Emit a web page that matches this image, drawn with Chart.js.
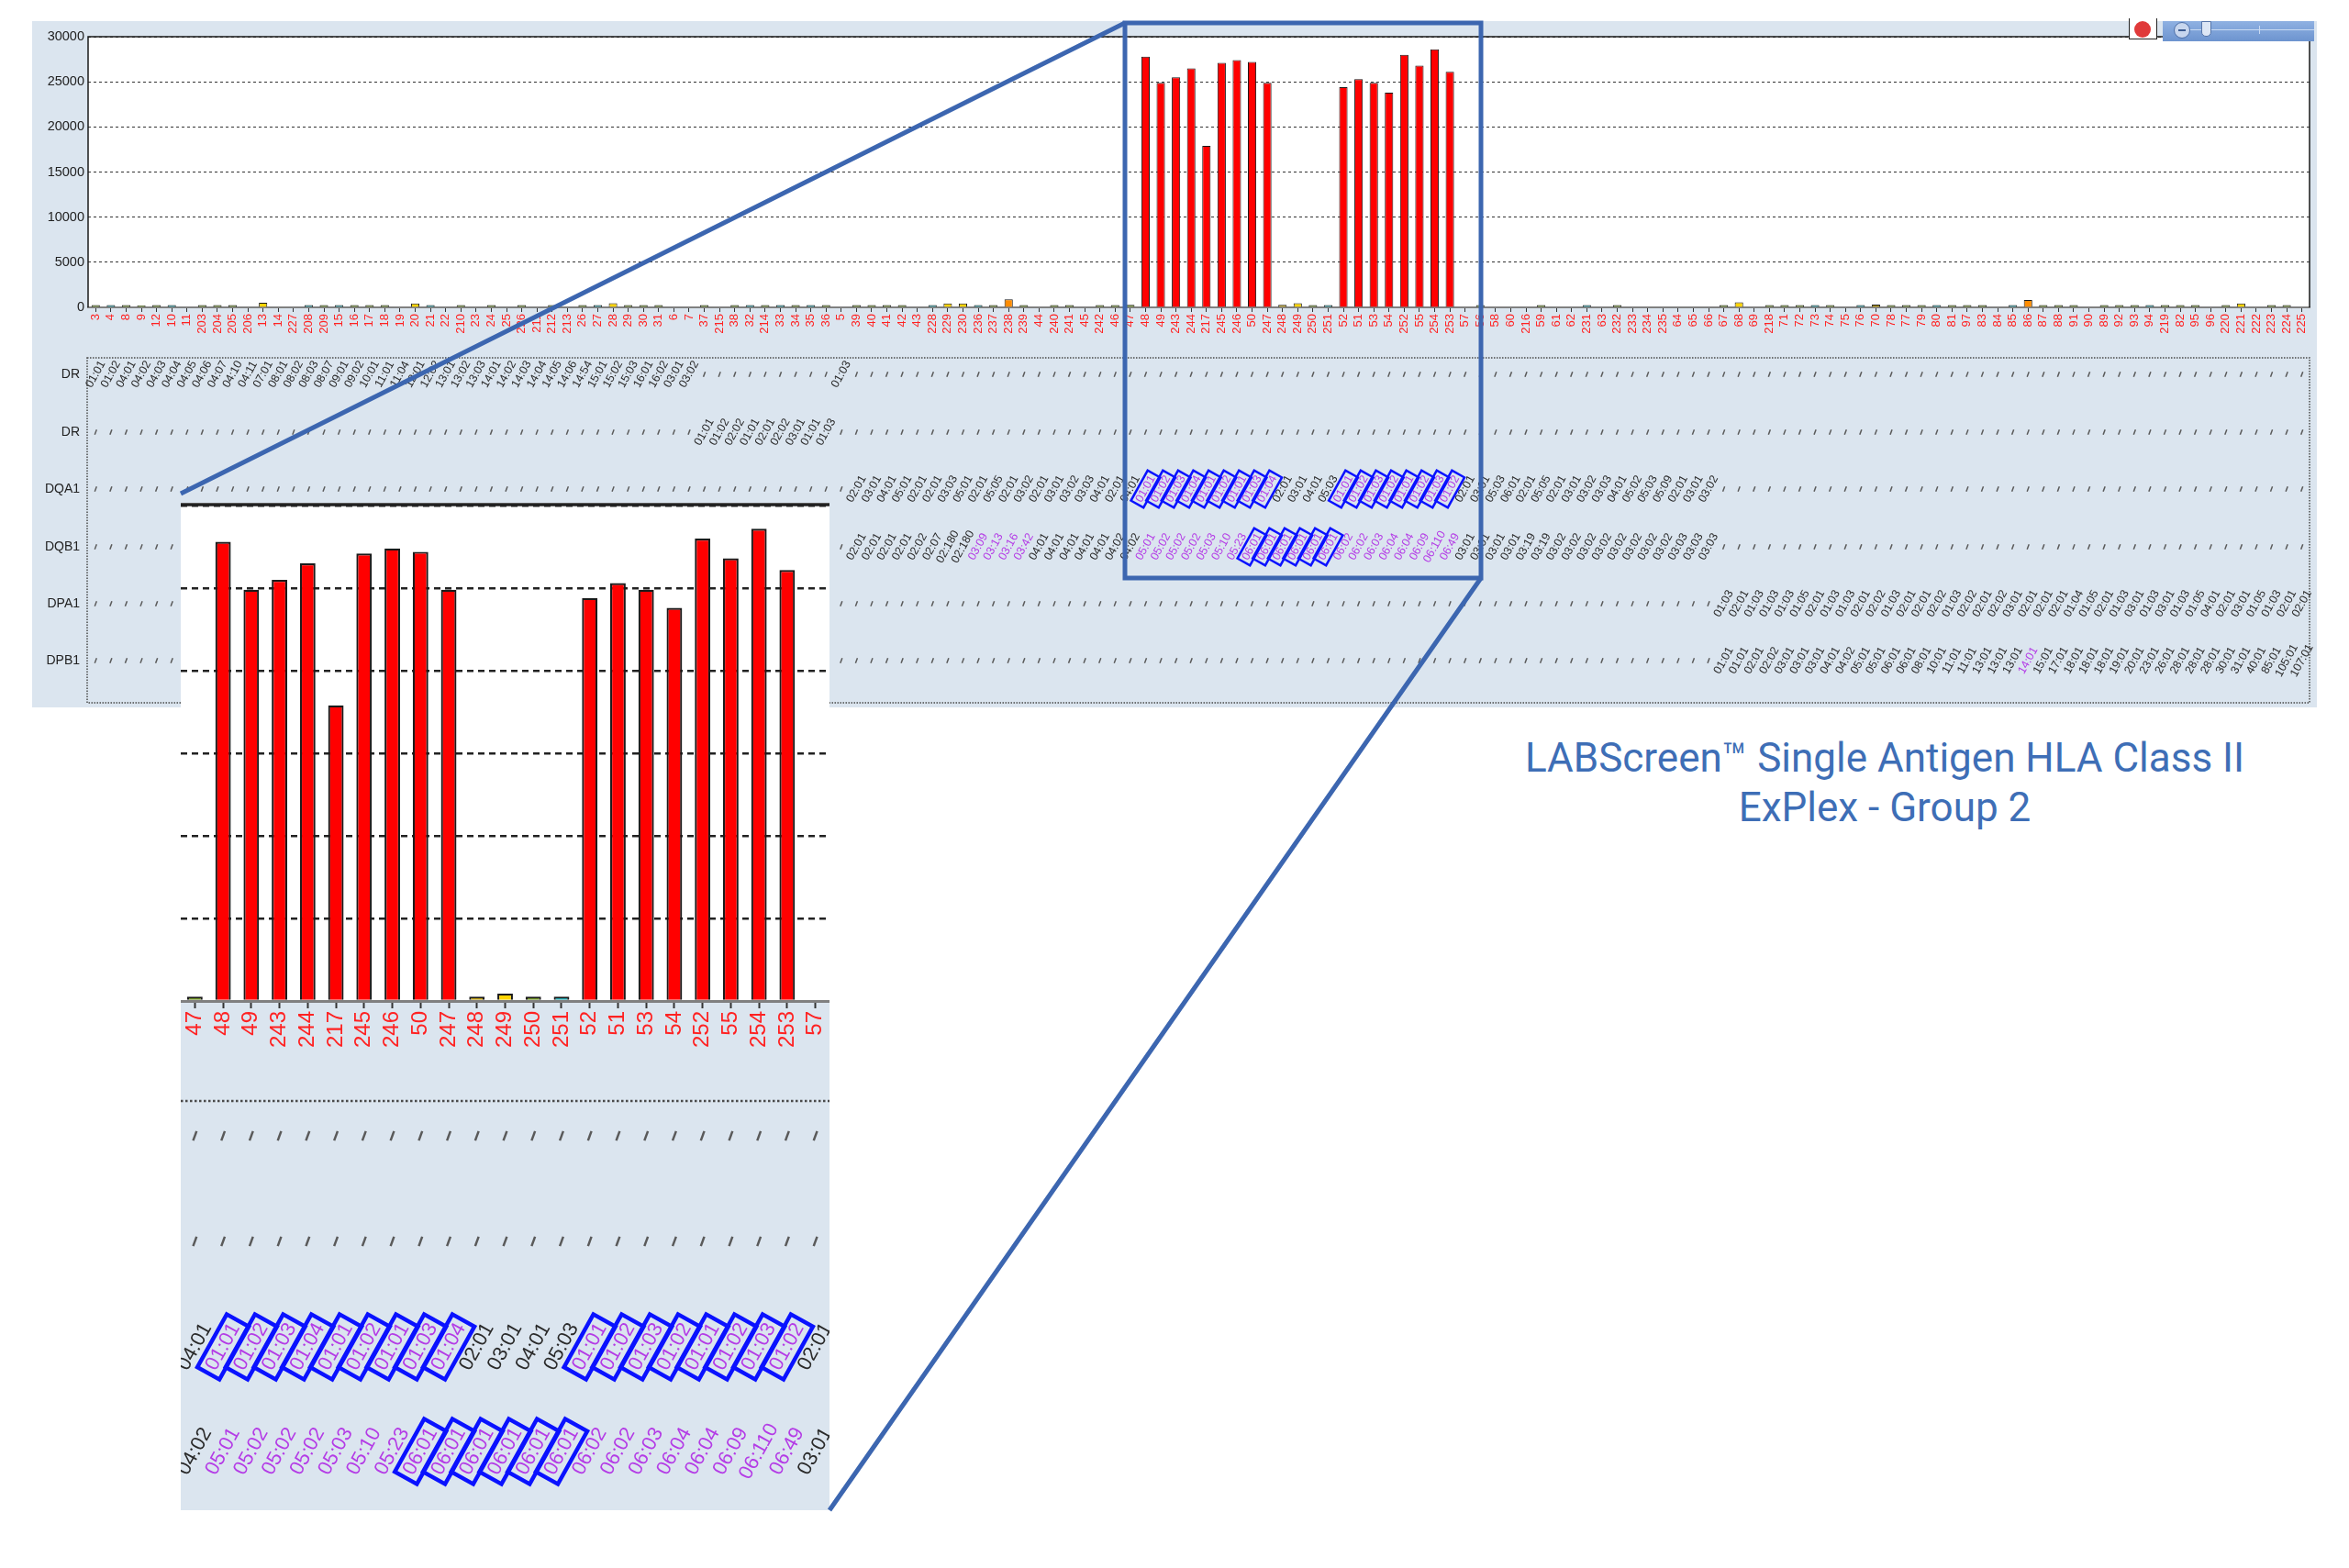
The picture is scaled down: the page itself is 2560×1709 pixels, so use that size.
<!DOCTYPE html>
<html lang="pt-BR">
<head>
<meta charset="utf-8">
<title>LABScreen Single Antigen HLA Class II - ExPlex Group 2</title>
<script src="https://cdn.jsdelivr.net/npm/chart.js@4.4.1/dist/chart.umd.min.js"></script>
<style>
  html, body { margin: 0; padding: 0; background: #fff; }
  body { width: 2560px; height: 1709px; position: relative; overflow: hidden; font-family: Arial, "Liberation Sans", sans-serif; }
  #painel { position: absolute; left: 35px; top: 23px; width: 2490px; height: 748px; background: #dbe5ef; }
  #graficoPrincipal { position: absolute; left: 35px; top: 23px; }
  #graficoZoom { position: absolute; left: 197px; top: 548px; background: #dbe5ef; }
  #sobreposicao { position: absolute; left: 0; top: 0; pointer-events: none; }
  #titulo { position: absolute; left: 1454px; top: 799px; width: 1200px; text-align: center;
            font-family: Roboto, "Open Sans", sans-serif; font-size: 44px; line-height: 54px; color: #3e6eb6; }
  #botaoRec { position: absolute; left: 2320px; top: 20px; width: 29px; height: 22px; background: #fff;
              border: 1.5px solid #222; border-top: none; }
  #botaoRec span { position: absolute; left: 5px; top: 3px; width: 18px; height: 18px; border-radius: 50%; background: #e03a3a; }
  #barraZoom { position: absolute; left: 2357px; top: 23px; width: 165px; height: 22px;
               background: linear-gradient(#8fb1e2, #6d94cf); }
  #barraZoom .trilho { position: absolute; left: 30px; right: 0; top: 9px; height: 1px; background: #c9daf2; }
  #barraZoom .menos { position: absolute; left: 12px; top: 1px; width: 18px; height: 18px; border-radius: 50%;
                      border: 1.5px solid #4d6fa8; background: #c7d6ee; box-sizing: border-box; }
  #barraZoom .menos:after { content: ""; position: absolute; left: 4px; right: 4px; top: 7px; height: 2px; background: #3a5a90; }
  #barraZoom .cursor { position: absolute; left: 42px; top: 0; width: 9px; height: 15px; background: #dce6f5;
                       border: 1px solid #5575aa; border-radius: 0 0 5px 5px; }
  #barraZoom .marca { position: absolute; left: 105px; top: 5px; width: 1px; height: 9px; background: #c9daf2; }
</style>
</head>
<body>
<div id="painel"></div>
<canvas id="graficoPrincipal" width="2490" height="748"></canvas>
<canvas id="graficoZoom" width="707" height="1098"></canvas>
<div id="botaoRec"><span></span></div>
<div id="barraZoom"><div class="trilho"></div><div class="marca"></div><span class="menos"></span><span class="cursor"></span></div>
<div id="titulo">LABScreen™ Single Antigen HLA Class II<br>ExPlex - Group 2</div>
<canvas id="sobreposicao" width="2560" height="1709"></canvas>

<script>
// beads na ordem do eixo x
const categorias = ['3','4','8','9','12','10','11','203','204','205',
  '206','13','14','227','208','209','15','16','17','18',
  '19','20','21','22','210','23','24','25','226','211',
  '212','213','26','27','28','29','30','31','6','7',
  '37','215','38','32','214','33','34','35','36','5',
  '39','40','41','42','43','228','229','230','236','237',
  '238','239','44','240','241','45','242','46','47','48',
  '49','243','244','217','245','246','50','247','248','249',
  '250','251','52','51','53','54','252','55','254','253',
  '57','56','58','60','216','59','61','62','231','63',
  '232','233','234','235','64','65','66','67','68','69',
  '218','71','72','73','74','75','76','70','78','77',
  '79','80','81','97','83','84','85','86','87','88',
  '91','90','89','92','93','94','219','82','95','96',
  '220','221','222','223','224','225'];

// MFI de cada bead
const valores = [250,260,250,240,250,260,0,250,250,250,
  0,520,0,0,260,250,260,250,250,250,
  0,430,260,0,250,0,250,0,250,0,
  250,0,250,260,450,250,250,250,0,0,
  250,0,250,260,250,260,250,260,250,0,
  250,250,250,250,0,260,420,420,260,250,
  880,250,0,250,250,0,250,250,270,27800,
  24900,25500,26500,17900,27100,27400,27200,24900,270,450,
  260,260,24400,25300,24900,23800,28000,26800,28600,26100,
  0,250,0,0,0,250,0,0,260,0,
  250,0,0,0,0,0,0,250,560,0,
  250,250,250,260,250,0,260,300,250,250,
  250,260,250,250,250,0,260,820,250,250,
  250,0,250,250,250,260,250,250,250,0,
  250,420,0,250,250,0];

// faixa de reacao: v verde, t turquesa, a amarelo, l laranja, m mostarda, r vermelho, - sem barra
const faixas = ['v','t','v','v','v','t','-','v','v','v',
  '-','a','-','-','t','v','t','v','v','v',
  '-','a','t','-','v','-','v','-','v','-',
  'v','-','v','t','a','v','v','v','-','-',
  'v','-','v','t','v','t','v','t','v','-',
  'v','v','v','v','-','t','a','a','t','v',
  'l','v','-','v','v','-','v','v','v','r',
  'r','r','r','r','r','r','r','r','m','a',
  'v','t','r','r','r','r','r','r','r','r',
  '-','v','-','-','-','v','-','-','t','-',
  'v','-','-','-','-','-','-','v','a','-',
  'v','v','v','t','v','-','t','m','v','v',
  'v','t','v','v','v','-','t','l','v','v',
  'v','-','v','v','v','t','v','v','v','-',
  'v','a','-','v','v','-'];

const escalaY = [0, 5000, 10000, 15000, 20000, 25000, 30000];

// alelos por locus, a partir da bead indicada (beads consecutivas no eixo)
const alelosDR1 = ['01:01','01:02','04:01','04:02','04:03','04:04','04:05','04:06','04:07','04:10',
  '04:11','07:01','08:01','08:02','08:03','08:07','09:01','09:02','10:01','11:01',
  '11:04','12:01','12:02','13:01','13:02','13:03','14:01','14:02','14:03','14:04',
  '14:05','14:06','14:54','15:01','15:02','15:03','16:01','16:02','03:01','03:02'];
const alelosDR1b = ['01:03'];
const alelosDR2 = ['01:01','01:02','02:02','01:01','02:01','02:02','03:01','01:01','01:03'];
const alelosDQA1 = ['02:01','03:01','04:01','05:01','02:01','02:01','03:03','05:01','02:01','05:05',
  '02:01','03:02','02:01','03:01','03:02','03:03','04:01','02:01',
  '04:01','01:01','01:02','01:03','01:04','01:01','01:02','01:01','01:03','01:04',
  '02:01','03:01','04:01','05:03','01:01','01:02','01:03','01:02','01:01','01:02','01:03','01:02','02:01',
  '03:01','05:03','06:01','02:01','05:05','02:01','03:01','03:02','03:03','04:01',
  '05:02','05:03','05:09','02:01','03:01','03:02'];
const alelosDQB1 = ['02:01','02:01','02:01','02:01','02:02','02:07','02:180','02:180','03:09','03:13',
  '03:16','03:42','04:01','04:01','04:01','04:01','04:01','04:02',
  '04:02','05:01','05:02','05:02','05:02','05:03','05:10','05:23','06:01','06:01',
  '06:01','06:01','06:01','06:01','06:02','06:02','06:03','06:04','06:04','06:09','06:110','06:49','03:01',
  '03:01','03:01','03:01','03:19','03:19','03:02','03:02','03:02','03:02','03:02',
  '03:02','03:02','03:02','03:03','03:03','03:03'];
const alelosDPA1 = ['01:03','02:01','01:03','01:03','01:03','01:05','02:01','01:03','01:03','02:01',
  '02:02','01:03','02:01','02:01','02:02','01:03','02:02','02:01','02:02','03:01',
  '02:01','02:01','02:01','01:04','01:05','02:01','01:03','03:01','01:03','03:01',
  '01:03','01:05','04:01','02:01','03:01','01:05','01:03','02:01','02:01'];
const alelosDPB1 = ['01:01','01:01','02:01','02:02','03:01','03:01','03:01','04:01','04:02','05:01',
  '05:01','06:01','06:01','08:01','10:01','11:01','11:01','13:01','13:01','13:01',
  '14:01','15:01','17:01','18:01','18:01','18:01','19:01','20:01','23:01','26:01',
  '28:01','28:01','28:01','30:01','31:01','40:01','85:01','105:01','107:01'];

// beads com alelo positivo (roxo) e com caixa azul
const caixaDQA1 = ['48','49','243','244','217','245','246','50','247','52','51','53','54','252','55','254','253'];
const caixaDQB1 = ['50','247','248','249','250','251'];
const roxoDQB1 = ['236','237','238','239','48','49','243','244','217','245','246','52','51','53','54','252','55','254','253'];
const roxoDPB1 = ['86'];

const zoomDe = '47';
const zoomAte = '57';

var coresFaixa = { v: '#6b8e23', t: '#1f9ea6', a: '#ffd400', l: '#ff8c00', m: '#b89a10', r: '#ff0000', '-': 'rgba(0,0,0,0)' };

Chart.defaults.font.family = 'Arial, "Liberation Sans", sans-serif';
Chart.defaults.animation = false;

function montarMapa(grupos) {
    var mapa = {};
    grupos.forEach(function (g) {
        var inicio = categorias.indexOf(g[0]);
        g[1].forEach(function (alelo, k) {
            mapa[categorias[inicio + k]] = alelo;
        });
    });
    return mapa;
}

var linhasHLA = [
    { nome: 'DR', mapa: montarMapa([['3', alelosDR1], ['5', alelosDR1b]]), roxo: [], caixa: [] },
    { nome: 'DR', mapa: montarMapa([['37', alelosDR2]]), roxo: [], caixa: [] },
    { nome: 'DQA1', mapa: montarMapa([['39', alelosDQA1]]), roxo: caixaDQA1, caixa: caixaDQA1 },
    { nome: 'DQB1', mapa: montarMapa([['39', alelosDQB1]]), roxo: roxoDQB1.concat(caixaDQB1), caixa: caixaDQB1 },
    { nome: 'DPA1', mapa: montarMapa([['67', alelosDPA1]]), roxo: [], caixa: [] },
    { nome: 'DPB1', mapa: montarMapa([['67', alelosDPB1]]), roxo: roxoDPB1, caixa: [] }
];

function desenharTabela(chart, cfg) {
    var ctx = chart.ctx;
    var escalaX = chart.scales.x;
    var area = chart.chartArea;
    var rotulos = chart.data.labels;
    ctx.save();
    ctx.strokeStyle = '#4a4a4a';
    ctx.lineWidth = cfg.pontilhado;
    ctx.setLineDash([cfg.pontilhado, cfg.pontilhado]);
    ctx.beginPath();
    if (cfg.moldura) {
        ctx.rect(area.left - 1, cfg.topo, area.right - area.left + 1, cfg.base - cfg.topo);
    } else {
        ctx.moveTo(0, cfg.topo);
        ctx.lineTo(chart.width, cfg.topo);
    }
    ctx.stroke();
    ctx.setLineDash([]);

    ctx.font = cfg.fonte + 'px Arial, "Liberation Sans", sans-serif';
    ctx.textAlign = 'center';
    ctx.textBaseline = 'middle';
    var angulo = -61 * Math.PI / 180;
    var anguloMarca = -70 * Math.PI / 180;

    cfg.linhas.forEach(function (y, r) {
        var linha = linhasHLA[r];
        if (cfg.nomes) {
            ctx.save();
            ctx.font = '14px Arial, "Liberation Sans", sans-serif';
            ctx.fillStyle = '#222';
            ctx.textAlign = 'right';
            ctx.fillText(linha.nome, cfg.xNome, y);
            ctx.restore();
        }
        rotulos.forEach(function (bead, i) {
            var px = escalaX.getPixelForValue(i);
            var alelo = linha.mapa[bead];
            ctx.save();
            ctx.translate(px, y);
            if (alelo) {
                ctx.rotate(angulo);
                ctx.fillStyle = linha.roxo.indexOf(bead) >= 0 ? '#b43ce6' : '#2a2a2a';
                ctx.fillText(alelo, 0, 0);
                if (linha.caixa.indexOf(bead) >= 0) {
                    var w = ctx.measureText(alelo).width + cfg.fonte * 0.5;
                    var h = cfg.fonte * 1.25;
                    ctx.strokeStyle = '#0a12ff';
                    ctx.lineWidth = cfg.caixa;
                    ctx.strokeRect(-w / 2, -h / 2, w, h);
                }
            } else {
                ctx.rotate(anguloMarca);
                ctx.strokeStyle = '#5a5a5a';
                ctx.lineWidth = cfg.traco;
                ctx.beginPath();
                ctx.moveTo(-cfg.marca / 2, 0);
                ctx.lineTo(cfg.marca / 2, 0);
                ctx.stroke();
            }
            ctx.restore();
        });
    });
    ctx.restore();
}

function montarDataset(dados, faixasBarras, borda) {
    return {
        label: 'MFI',
        data: dados,
        backgroundColor: faixasBarras.map(function (f) { return coresFaixa[f] }),
        borderColor: '#1a1a1a',
        borderWidth: function (c) { return dados[c.dataIndex] > 0 ? borda : 0 },
        borderSkipped: 'start',
        barPercentage: 0.55,
        categoryPercentage: 1.0
    };
}

// grafico principal
var pluginPrincipal = {
    id: 'tabelaPrincipal',
    beforeDraw: function (chart) {
        var a = chart.chartArea;
        chart.ctx.save();
        chart.ctx.fillStyle = '#ffffff';
        chart.ctx.fillRect(a.left, a.top, a.right - a.left, a.bottom - a.top);
        chart.ctx.restore();
    },
    afterDatasetsDraw: function (chart) {
        var a = chart.chartArea;
        var ctx = chart.ctx;
        ctx.save();
        ctx.strokeStyle = '#1a1a1a';
        ctx.lineWidth = 1.5;
        ctx.beginPath();
        ctx.moveTo(a.left, a.bottom);
        ctx.lineTo(a.left, a.top);
        ctx.lineTo(a.right, a.top);
        ctx.lineTo(a.right, a.bottom);
        ctx.stroke();
        ctx.restore();
    },
    afterDraw: function (chart) {
        desenharTabela(chart, {
            moldura: true, topo: 367, base: 743, pontilhado: 1.5,
            linhas: [385, 448, 510, 573, 635, 697], nomes: true, xNome: 52,
            fonte: 12.5, caixa: 2.5, marca: 6, traco: 1.5
        });
    }
};

var graficoPrincipal = new Chart(document.getElementById('graficoPrincipal'), {
    type: 'bar',
    data: { labels: categorias, datasets: [montarDataset(valores, faixas, 1)] },
    options: {
        responsive: false,
        devicePixelRatio: 1,
        layout: { padding: { top: 17, right: 8, left: 0, bottom: 0 } },
        plugins: { legend: { display: false }, tooltip: { enabled: false } },
        scales: {
            x: {
                offset: true,
                grid: { offset: false, drawOnChartArea: false, drawTicks: true, tickLength: 5, tickColor: '#333', tickWidth: 1 },
                border: { display: true, color: '#808080', width: 2 },
                ticks: { color: '#ff2222', font: { size: 13 }, minRotation: 90, maxRotation: 90, autoSkip: false, padding: 2 },
                afterFit: function (s) { s.height = 436; s.paddingLeft = 0; s.paddingRight = 0; }
            },
            y: {
                min: escalaY[0],
                max: escalaY[escalaY.length - 1],
                afterBuildTicks: function (s) { s.ticks = escalaY.map(function (v) { return { value: v } }) },
                ticks: { color: '#222', font: { size: 14.5 }, padding: 4, callback: function (v) { return String(v) } },
                grid: { color: '#333', lineWidth: 1, drawTicks: false },
                border: { display: false, dash: [3, 3] },
                afterFit: function (s) { s.width = 61; }
            }
        }
    },
    plugins: [pluginPrincipal]
});

// grafico ampliado (zoom)
var iZoomDe = categorias.indexOf(zoomDe);
var iZoomAte = categorias.indexOf(zoomAte) + 1;

var pluginZoom = {
    id: 'tabelaZoom',
    beforeDraw: function (chart) {
        var ctx = chart.ctx;
        ctx.save();
        ctx.fillStyle = '#ffffff';
        ctx.fillRect(0, 0, chart.width, chart.chartArea.bottom);
        ctx.restore();
    },
    afterDatasetsDraw: function (chart) {
        var ctx = chart.ctx;
        ctx.save();
        ctx.strokeStyle = '#222';
        ctx.lineWidth = 3.5;
        ctx.beginPath();
        ctx.moveTo(0, 2);
        ctx.lineTo(chart.width, 2);
        ctx.stroke();
        ctx.restore();
    },
    afterDraw: function (chart) {
        desenharTabela(chart, {
            moldura: false, topo: 652, pontilhado: 2.5,
            linhas: [690, 805, 920, 1034], nomes: false,
            fonte: 22, caixa: 4.5, marca: 11, traco: 2.5
        });
    }
};

var graficoZoom = new Chart(document.getElementById('graficoZoom'), {
    type: 'bar',
    data: {
        labels: categorias.slice(iZoomDe, iZoomAte),
        datasets: [montarDataset(valores.slice(iZoomDe, iZoomAte), faixas.slice(iZoomDe, iZoomAte), 2.2)]
    },
    options: {
        responsive: false,
        devicePixelRatio: 1,
        layout: { padding: { top: 3, right: 0, left: 0, bottom: 0 } },
        plugins: { legend: { display: false }, tooltip: { enabled: false } },
        scales: {
            x: {
                offset: true,
                grid: { offset: false, drawOnChartArea: false, drawTicks: true, tickLength: 8, tickColor: '#333', tickWidth: 2 },
                border: { display: true, color: '#808080', width: 3 },
                ticks: { color: '#ff2222', font: { size: 24 }, minRotation: 90, maxRotation: 90, autoSkip: false, padding: 3 },
                afterFit: function (s) { s.height = 555; s.paddingLeft = 0; s.paddingRight = 0; }
            },
            y: {
                min: escalaY[0],
                max: escalaY[escalaY.length - 1],
                afterBuildTicks: function (s) { s.ticks = escalaY.map(function (v) { return { value: v } }) },
                ticks: { display: false },
                grid: { color: '#222', lineWidth: 2.5, drawTicks: false },
                border: { display: false, dash: [7, 5] },
                afterFit: function (s) { s.width = 0; s.paddingTop = 0; s.paddingBottom = 0; }
            }
        }
    },
    plugins: [pluginZoom]
});

// moldura azul do zoom e linhas de ligacao
var sobre = document.getElementById('sobreposicao').getContext('2d');
sobre.strokeStyle = '#3c66b0';
sobre.lineWidth = 5;
sobre.strokeRect(1226, 25, 388, 605);
sobre.beginPath();
sobre.moveTo(1226, 25);
sobre.lineTo(197, 538);
sobre.moveTo(1614, 630);
sobre.lineTo(904, 1646);
sobre.stroke();
</script>
</body>
</html>
